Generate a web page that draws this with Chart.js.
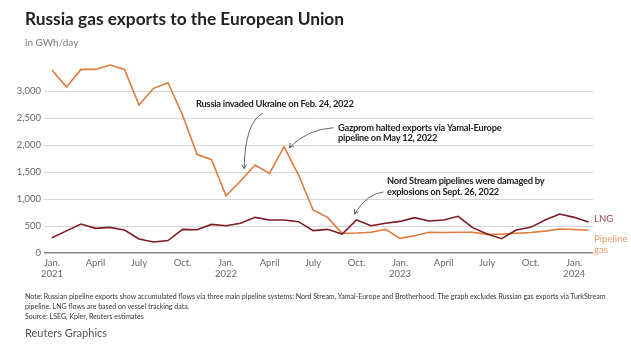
<!DOCTYPE html>
<html>
<head>
<meta charset="utf-8">
<script src="https://cdn.jsdelivr.net/npm/chart.js@4/dist/chart.umd.min.js"></script>
<style>
  html, body { margin: 0; padding: 0; background: #fff; }
  body { width: 631px; height: 346px; position: relative; overflow: hidden; font-family: Lato, 'Noto Sans', sans-serif; }
  #wrap { position: absolute; left: 0; top: 0; width: 631px; height: 346px; }
  .title { position: absolute; left: 25px; top: 8px; font-size: 17.3px; font-weight: 700; color: #222; white-space: nowrap; }
  .sub { position: absolute; left: 25px; top: 36px; font-size: 10px; color: #777; }
  .note { position: absolute; left: 25px; top: 291px; font-size: 7px; line-height: 10px; color: #333; white-space: nowrap; }
  .brand { position: absolute; left: 25px; top: 326px; font-size: 11px; color: #555; }
</style>
</head>
<body>
<div id="wrap"><canvas id="myChart" width="631" height="346"></canvas></div>
<div class="title">Russia gas exports to the European Union</div>
<div class="sub">in GWh/day</div>
<div class="note">Note: Russian pipeline exports show accumulated flows via three main pipeline systems: Nord Stream, Yamal-Europe and Brotherhood. The graph excludes Russian gas exports via TurkStream<br>pipeline. LNG flows are based on vessel tracking data.<br>Source: LSEG, Kpler, Reuters estimates</div>
<div class="brand">Reuters Graphics</div>
<script>
// monthly, Jan 2021 .. Feb 2024
const startYear = 2021;
const pipelineGas = [
    3390, 3074, 3400, 3400, 3481, 3400, 2740, 3050, 3154, 2555, 1827, 1728,
    1058, 1333, 1630, 1475, 1969, 1444, 796, 660, 364, 370, 383, 438,
    272, 321, 383, 380, 385, 385, 345, 350, 365, 380, 405, 445,
    435, 420
];
const lng = [
    284, 410, 537, 457, 475, 426, 259, 204, 230, 438, 430, 530,
    505, 550, 660, 611, 611, 580, 414, 438, 352, 611, 506, 550,
    585, 655, 593, 611, 680, 469, 350, 265, 426, 475, 611, 722,
    660, 574
];
const monthLabels = { 0: 'Jan.', 3: 'April', 6: 'July', 9: 'Oct.' };
const yTicks = [0, 500, 1000, 1500, 2000, 2500, 3000];

const orange = '#e07a3c';
const darkRed = '#7a1c22';

const toPoints = arr => arr.map((v, i) => ({ x: i, y: v }));

// annotation text + arrows, anchored to the scales (month index, value)
const notes = [
    { lines: ['Russia invaded Ukraine on Feb. 24, 2022'], at: [9.93, 2760],
      arrow: [[14.55, 2590], [13.3, 2420], [13.25, 1560]] },
    { lines: ['Gazprom halted exports via Yamal-Europe', 'pipeline on May 12, 2022'], at: [19.72, 2320],
      arrow: [[19.4, 2320], [17.6, 2290], [16.35, 1950]] },
    { lines: ['Nord Stream pipelines were damaged by', 'explosions on Sept. 26, 2022'], at: [23.1, 1330],
      arrow: [[22.85, 1130], [21.7, 1100], [20.85, 720]] }
];

const annotate = {
    id: 'annotate',
    afterDatasetsDraw(chart) {
        const { ctx, scales: { x, y } } = chart;
        ctx.save();
        ctx.font = "bold 9.3px Lato, 'Noto Sans', sans-serif";
        ctx.letterSpacing = '-0.25px';
        ctx.fillStyle = '#222';
        ctx.textBaseline = 'middle';
        notes.forEach(n => {
            const px = x.getPixelForValue(n.at[0]);
            const py = y.getPixelForValue(n.at[1]);
            n.lines.forEach((t, k) => ctx.fillText(t, px, py + k * 10.5));

            const [a, c, b] = n.arrow.map(p => [x.getPixelForValue(p[0]), y.getPixelForValue(p[1])]);
            ctx.strokeStyle = '#555';
            ctx.lineWidth = 0.9;
            ctx.beginPath();
            ctx.moveTo(a[0], a[1]);
            ctx.quadraticCurveTo(c[0], c[1], b[0], b[1]);
            ctx.stroke();
            // open arrow head
            const ang = Math.atan2(b[1] - c[1], b[0] - c[0]);
            const len = 5;
            ctx.beginPath();
            ctx.moveTo(b[0] - len * Math.cos(ang - 0.5), b[1] - len * Math.sin(ang - 0.5));
            ctx.lineTo(b[0], b[1]);
            ctx.lineTo(b[0] - len * Math.cos(ang + 0.5), b[1] - len * Math.sin(ang + 0.5));
            ctx.stroke();
        });

        // series labels at the right end
        ctx.letterSpacing = '0px';
        ctx.font = "9.6px Lato, 'Noto Sans', sans-serif";
        ctx.textAlign = 'left';
        const lx = chart.chartArea.right + 1;
        ctx.fillStyle = '#a0474b';
        ctx.fillText('LNG', lx, y.getPixelForValue(lng[lng.length - 1]) - 3);
        ctx.fillStyle = '#e89a6c';
        const py = y.getPixelForValue(pipelineGas[pipelineGas.length - 1]) + 9;
        ctx.fillText('Pipeline', lx, py);
        ctx.fillText('gas', lx, py + 11);
        ctx.restore();
    }
};

const ctx = document.getElementById('myChart').getContext('2d');
new Chart(ctx, {
    type: 'line',
    data: {
        datasets: [
            { label: 'LNG', data: toPoints(lng), borderColor: darkRed, borderWidth: 1.6, pointRadius: 0, tension: 0 },
            { label: 'Pipeline gas', data: toPoints(pipelineGas), borderColor: orange, borderWidth: 1.6, pointRadius: 0, tension: 0 }
        ]
    },
    options: {
        responsive: false,
        animation: false,
        layout: { padding: { top: 64, right: 38, bottom: 63, left: 0 } },
        plugins: { legend: { display: false }, tooltip: { enabled: false } },
        scales: {
            x: {
                type: 'linear',
                min: -0.55,
                max: 37.3,
                afterBuildTicks: s => {
                    const t = [];
                    for (let i = 0; i < pipelineGas.length; i += 3) t.push({ value: i });
                    s.ticks = t;
                },
                afterFit: s => { s.height = 30; },
                grid: { display: false, drawTicks: false },
                border: { display: false },
                ticks: {
                    autoSkip: false,
                    maxRotation: 0,
                    padding: 4,
                    color: '#666',
                    font: { family: "Lato, 'Noto Sans', sans-serif", size: 9.5 },
                    callback: v => {
                        const m = v % 12;
                        const name = monthLabels[m];
                        return m === 0 ? [name, String(startYear + v / 12)] : name;
                    }
                }
            },
            y: {
                min: 0,
                max: 3500,
                afterBuildTicks: s => { s.ticks = yTicks.map(v => ({ value: v })); },
                afterFit: s => { s.width = 44; },
                grid: {
                    drawTicks: false,
                    color: c => c.tick && c.tick.value === 0 ? '#888' : '#d6d6d6',
                    lineWidth: c => c.tick && c.tick.value === 0 ? 1.5 : 1
                },
                border: { display: false },
                ticks: {
                    padding: 3,
                    color: '#666',
                    font: { family: "Lato, 'Noto Sans', sans-serif", size: 9.5 },
                    callback: v => v.toLocaleString('en-US')
                }
            }
        }
    },
    plugins: [annotate]
});
</script>
</body>
</html>
